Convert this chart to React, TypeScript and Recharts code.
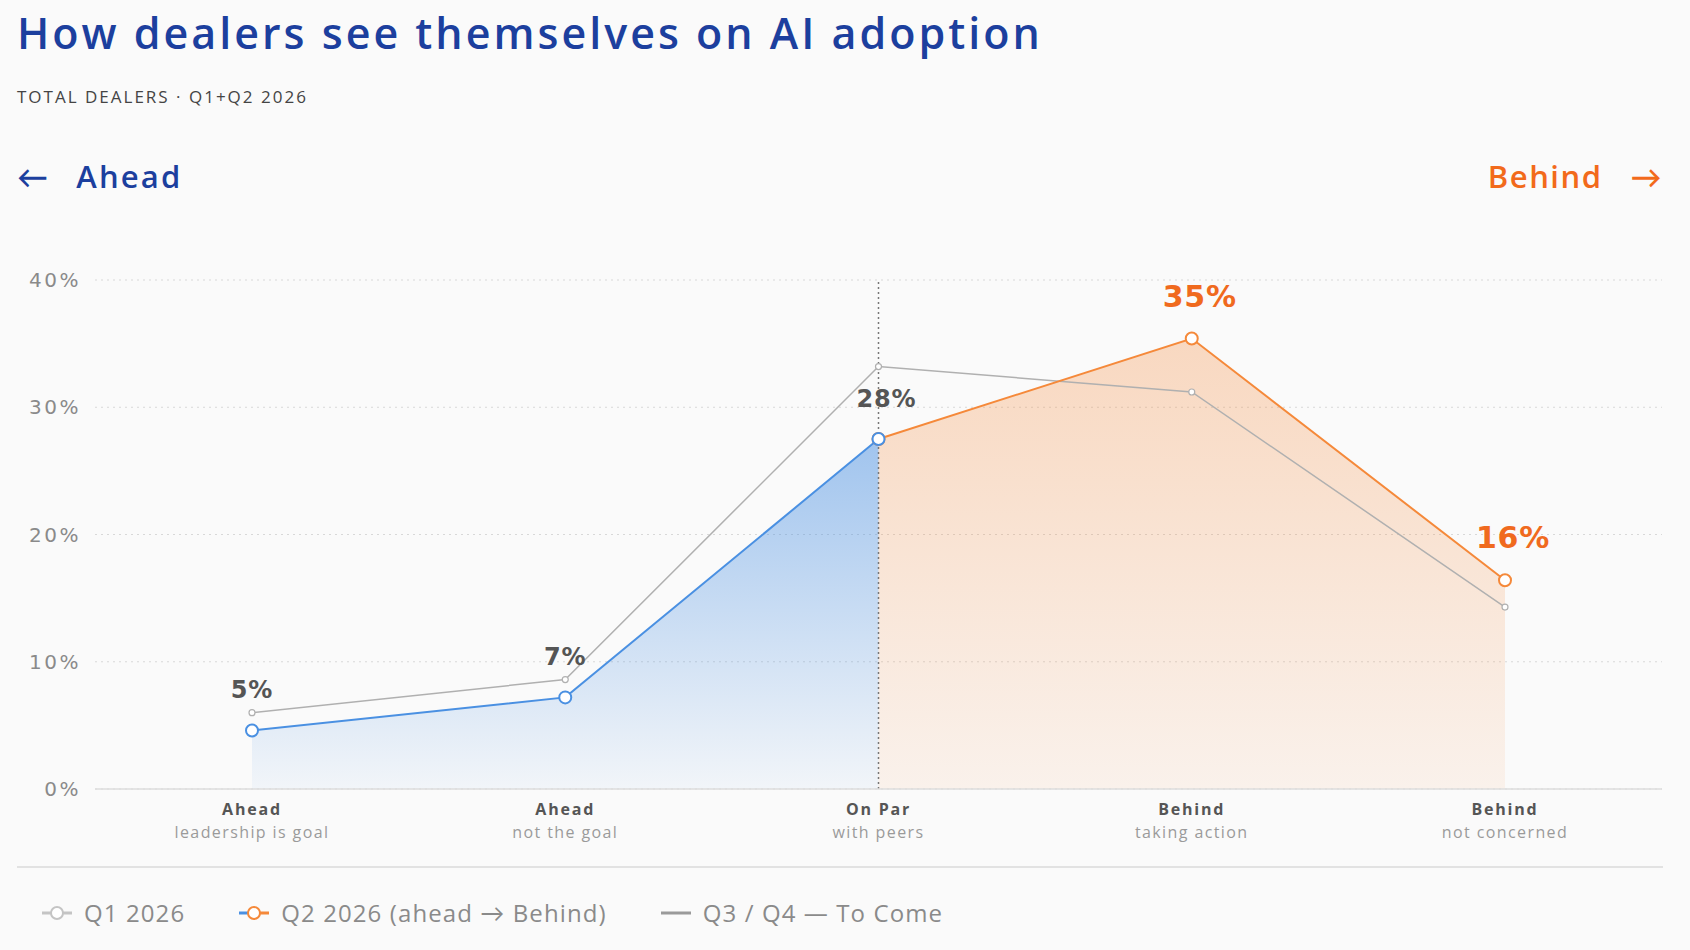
import {
  Area,
  CartesianGrid,
  ComposedChart,
  LabelList,
  Line,
  ReferenceLine,
  XAxis,
  YAxis,
} from "recharts";

const categories = ["ahead-lead", "ahead-not", "on-par", "behind-action", "behind-calm"];
const tickTitles = ["Ahead", "Ahead", "On Par", "Behind", "Behind"];
const tickSubtitles = [
  "leadership is goal",
  "not the goal",
  "with peers",
  "taking action",
  "not concerned",
];
// Q2 2026 split in two: ahead side (blue) and behind side (orange), they meet at "On Par"
const q2Ahead = [4.6, 7.2, 27.5, null, null];
const q2Behind = [null, null, 27.5, 35.4, 16.4];
const q1Values = [6.0, 8.6, 33.2, 31.2, 14.3];
const yTicks = [0, 10, 20, 30, 40];

const BLUE = "#4a90e2";
const ORANGE = "#f5893a";
const GREY = "#b0b0b0";
const FONT = "'Open Sans', Lato, sans-serif";
const NUM_FONT = "'DejaVu Sans', 'Open Sans', sans-serif";

const data = categories.map((key, i) => ({
  key,
  q1: q1Values[i],
  ahead: q2Ahead[i],
  behind: q2Behind[i],
}));

const XTick = ({ x, y, payload }: any) => {
  const i = categories.indexOf(payload.value);
  return (
    <g>
      <text x={x} y={y + 18} textAnchor="middle" fontSize={16} fontWeight={700} fill="#555" fontFamily={FONT} letterSpacing={1.8}>
        {tickTitles[i]}
      </text>
      <text x={x} y={y + 41} textAnchor="middle" fontSize={16} fill="#9a9a9a" fontFamily={FONT} letterSpacing={1.4}>
        {tickSubtitles[i]}
      </text>
    </g>
  );
};

const makeLabel = (color: string, size: number, skip: number[]) => (props: any) => {
  const { x, y, value, index } = props;
  if (value == null || skip.includes(index)) return null;
  return (
    <text
      x={x + (index >= 2 ? 8 : 0)}
      y={y - 32}
      textAnchor="middle"
      fontSize={size}
      fontWeight={700}
      fill={color}
      fontFamily={NUM_FONT}
      letterSpacing={0.8}
    >
      {Math.round(value)}%
    </text>
  );
};

const LegendDot = ({ left, right, ring }: { left: string; right: string; ring: string }) => (
  <svg width={34} height={16} style={{ verticalAlign: "middle", marginRight: 10 }}>
    <line x1={2} y1={8} x2={17} y2={8} stroke={left} strokeWidth={3} />
    <line x1={17} y1={8} x2={32} y2={8} stroke={right} strokeWidth={3} />
    <circle cx={17} cy={8} r={6} fill="#fff" stroke={ring} strokeWidth={2} />
  </svg>
);

export default function App() {
  return (
    <div
      style={{
        position: "absolute",
        left: 0,
        top: 0,
        width: 1690,
        height: 950,
        background: "#fafafa",
        fontFamily: FONT,
        overflow: "hidden",
      }}
    >
      <div
        style={{
          position: "absolute",
          left: 17,
          top: 3,
          fontSize: 43,
          fontWeight: 600,
          color: "#1c3f9e",
          letterSpacing: 3,
          whiteSpace: "nowrap",
        }}
      >
        How dealers see themselves on AI adoption
      </div>
      <div style={{ position: "absolute", left: 17, top: 85, fontSize: 17, color: "#444", letterSpacing: 2 }}>
        TOTAL DEALERS · Q1+Q2 2026
      </div>
      <div style={{ position: "absolute", left: 17, top: 155, fontSize: 31, fontWeight: 600, color: "#1c3f9e", letterSpacing: 2.2 }}>
        <span style={{ marginRight: 26 }}>←</span>Ahead
      </div>
      <div style={{ position: "absolute", right: 27, top: 155, fontSize: 31, fontWeight: 600, color: "#f26a1b", letterSpacing: 1.5 }}>
        Behind<span style={{ marginLeft: 28 }}>→</span>
      </div>

      <div style={{ position: "absolute", left: 0, top: 250 }}>
        <ComposedChart width={1690} height={620} data={data} margin={{ top: 30, right: 28, left: 0, bottom: 0 }}>
          <defs>
            <linearGradient id="blueFill" x1="0" y1="0" x2="0" y2="1">
              <stop offset="0%" stopColor={BLUE} stopOpacity={0.85} />
              <stop offset="100%" stopColor={BLUE} stopOpacity={0.08} />
            </linearGradient>
            <linearGradient id="orangeFill" x1="0" y1="0" x2="0" y2="1">
              <stop offset="0%" stopColor={ORANGE} stopOpacity={0.5} />
              <stop offset="100%" stopColor={ORANGE} stopOpacity={0.13} />
            </linearGradient>
          </defs>
          <CartesianGrid vertical={false} stroke="#d8d8d8" strokeDasharray="2 4" />
          <XAxis
            dataKey="key"
            padding={{ left: 157, right: 157 }}
            tickLine={false}
            axisLine={{ stroke: "#dddddd", strokeWidth: 1.5 }}
            tick={<XTick />}
            height={81}
            interval={0}
          />
          <YAxis
            domain={[0, 40]}
            ticks={yTicks}
            tickFormatter={(v) => `${v}%`}
            tickLine={false}
            axisLine={false}
            tickMargin={8}
            width={95}
            tick={{ fill: "#8a8a8a", fontSize: 20, fontFamily: NUM_FONT, letterSpacing: 2.5 }}
          />
          <ReferenceLine x={categories[2]} stroke="#777" strokeDasharray="2 3" strokeWidth={1.5} />
          <Area
            type="linear"
            dataKey="ahead"
            stroke="none"
            fill="url(#blueFill)"
            isAnimationActive={false}
            connectNulls={false}
          />
          <Area
            type="linear"
            dataKey="behind"
            stroke="none"
            fill="url(#orangeFill)"
            isAnimationActive={false}
            connectNulls={false}
          />
          <Line
            type="linear"
            dataKey="q1"
            stroke={GREY}
            strokeWidth={1.5}
            dot={{ r: 3, fill: "#fff", stroke: GREY, strokeWidth: 1.2 }}
            isAnimationActive={false}
          />
          <Line
            type="linear"
            dataKey="behind"
            stroke={ORANGE}
            strokeWidth={2}
            dot={{ r: 6, fill: "#fff", stroke: ORANGE, strokeWidth: 2 }}
            isAnimationActive={false}
          >
            <LabelList dataKey="behind" content={makeLabel("#f06a1e", 30, [2])} />
          </Line>
          <Line
            type="linear"
            dataKey="ahead"
            stroke={BLUE}
            strokeWidth={2}
            dot={{ r: 6, fill: "#fff", stroke: BLUE, strokeWidth: 2 }}
            isAnimationActive={false}
          >
            <LabelList dataKey="ahead" content={makeLabel("#555", 24, [])} />
          </Line>
        </ComposedChart>
      </div>

      <div style={{ position: "absolute", left: 17, top: 866, width: 1646, height: 2, background: "#e2e2e2" }} />

      <div
        style={{
          position: "absolute",
          left: 40,
          top: 896,
          fontSize: 24,
          color: "#8a8a8a",
          display: "flex",
          alignItems: "center",
          whiteSpace: "nowrap",
          letterSpacing: 1.1,
        }}
      >
        <LegendDot left="#c4c4c4" right="#c4c4c4" ring="#c4c4c4" />
        <span style={{ marginRight: 52 }}>Q1 2026</span>
        <LegendDot left={BLUE} right={ORANGE} ring={ORANGE} />
        <span style={{ marginRight: 52 }}>Q2 2026 (ahead → Behind)</span>
        <svg width={34} height={16} style={{ verticalAlign: "middle", marginRight: 10 }}>
          <line x1={2} y1={8} x2={32} y2={8} stroke="#9a9a9a" strokeWidth={3} />
        </svg>
        <span>Q3 / Q4 — To Come</span>
      </div>
    </div>
  );
}
